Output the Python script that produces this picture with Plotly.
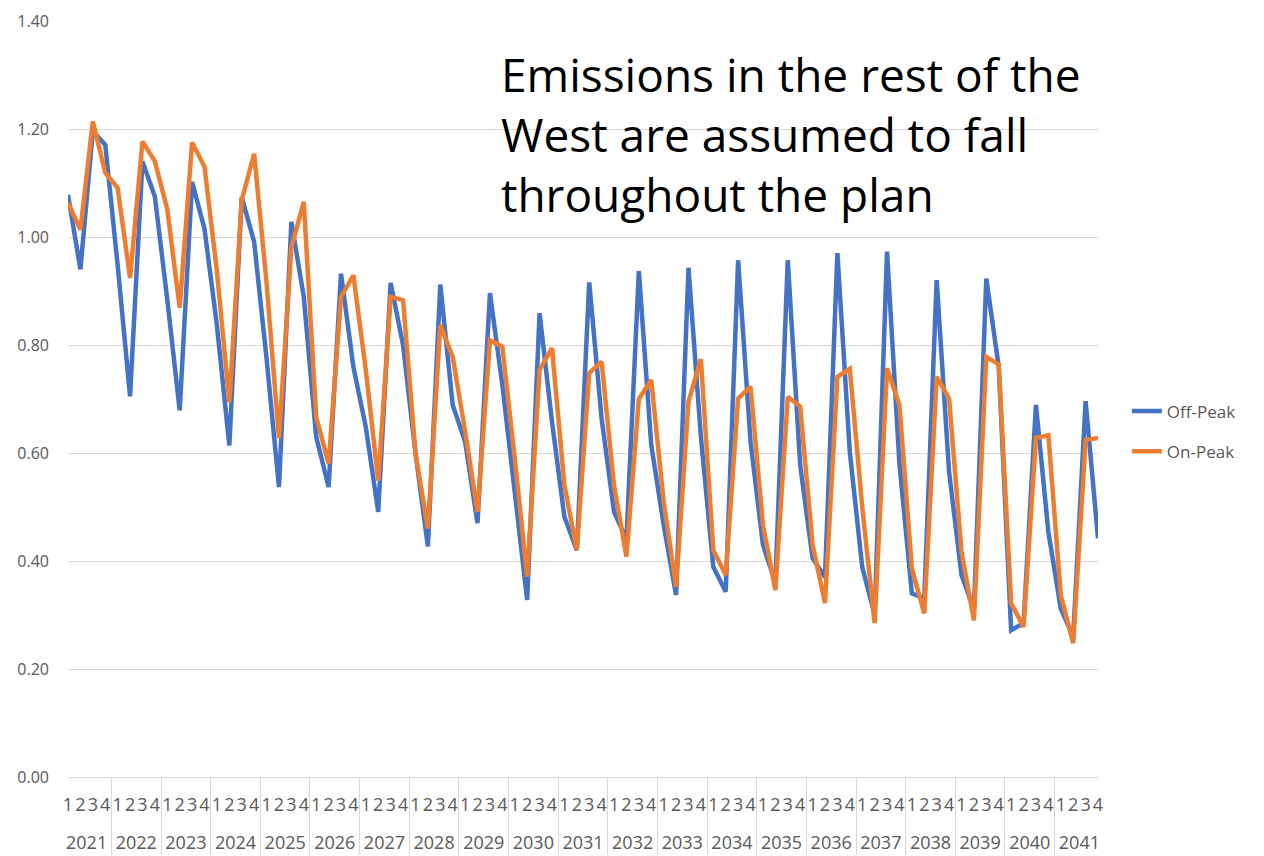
import plotly.graph_objects as go

# Quarterly categories: outer level = year, inner level = quarter
years = [str(y) for y in range(2021, 2042)]
quarters = ["1", "2", "3", "4"]

# Emissions rate by quarter, 2021 Q1 .. 2041 Q4
off_peak = [
    1.078, 0.940, 1.196, 1.171,   # 2021
    0.948, 0.705, 1.140, 1.075,   # 2022
    0.884, 0.679, 1.102, 1.015,   # 2023
    0.836, 0.614, 1.074, 0.991,   # 2024
    0.775, 0.537, 1.028, 0.889,   # 2025
    0.630, 0.537, 0.932, 0.759,   # 2026
    0.648, 0.491, 0.915, 0.800,   # 2027
    0.600, 0.427, 0.912, 0.689,   # 2028
    0.621, 0.470, 0.896, 0.726,   # 2029
    0.528, 0.328, 0.859, 0.658,   # 2030
    0.482, 0.420, 0.916, 0.664,   # 2031
    0.491, 0.440, 0.937, 0.615,   # 2032
    0.467, 0.337, 0.943, 0.630,   # 2033
    0.389, 0.343, 0.957, 0.621,   # 2034
    0.430, 0.360, 0.957, 0.578,   # 2035
    0.405, 0.370, 0.970, 0.602,   # 2036
    0.389, 0.300, 0.973, 0.580,   # 2037
    0.340, 0.331, 0.920, 0.565,   # 2038
    0.374, 0.310, 0.923, 0.760,   # 2039
    0.272, 0.285, 0.689, 0.454,   # 2040
    0.312, 0.260, 0.696, 0.442,   # 2041
]

on_peak = [
    1.063, 1.014, 1.214, 1.119,   # 2021
    1.091, 0.924, 1.177, 1.140,   # 2022
    1.051, 0.869, 1.175, 1.130,   # 2023
    0.936, 0.694, 1.068, 1.154,   # 2024
    0.915, 0.627, 0.981, 1.065,   # 2025
    0.667, 0.580, 0.889, 0.929,   # 2026
    0.753, 0.549, 0.889, 0.883,   # 2027
    0.600, 0.460, 0.837, 0.778,   # 2028
    0.640, 0.491, 0.809, 0.797,   # 2029
    0.590, 0.371, 0.754, 0.794,   # 2030
    0.541, 0.420, 0.748, 0.769,   # 2031
    0.540, 0.408, 0.700, 0.735,   # 2032
    0.510, 0.352, 0.695, 0.774,   # 2033
    0.420, 0.374, 0.701, 0.723,   # 2034
    0.467, 0.346, 0.704, 0.686,   # 2035
    0.430, 0.322, 0.741, 0.756,   # 2036
    0.500, 0.285, 0.757, 0.689,   # 2037
    0.386, 0.303, 0.741, 0.701,   # 2038
    0.417, 0.290, 0.778, 0.764,   # 2039
    0.322, 0.278, 0.628, 0.633,   # 2040
    0.337, 0.248, 0.624, 0.628,   # 2041
]

# Year labels sit one line lower than the quarter digits
year_level = ["<br>" + y for y in years for _ in quarters]
quarter_level = [q for _ in years for q in quarters]
x_cats = [year_level, quarter_level]

TEXT = "#595959"
GRID = "#D9D9D9"
FONT = "Open Sans"

fig = go.Figure()
fig.add_trace(go.Scatter(
    x=x_cats, y=off_peak, name="Off-Peak", mode="lines",
    line=dict(color="#4472C4", width=4.5), legendgroup="a",
))
fig.add_trace(go.Scatter(
    x=x_cats, y=on_peak, name="On-Peak", mode="lines",
    line=dict(color="#ED7D31", width=4.5), legendgroup="b",
))

fig.update_layout(
    width=1264, height=856,
    margin=dict(l=68, r=166, t=21, b=79, autoexpand=False),
    paper_bgcolor="white", plot_bgcolor="white",
    font=dict(family=FONT, color=TEXT),
    showlegend=True,
    legend=dict(
        x=1.028, xanchor="left", y=0.457, yanchor="middle",
        font=dict(size=17, color=TEXT, family=FONT),
        tracegroupgap=15, bgcolor="rgba(0,0,0,0)",
    ),
    annotations=[dict(
        xref="paper", yref="paper", x=0.4184, y=0.851,
        xanchor="left", yanchor="middle", align="left",
        text="Emissions in the rest of the<br>West are assumed to fall<br>throughout the plan",
        showarrow=False,
        font=dict(family=FONT, size=46, color="#000000"),
    )],
)

fig.update_xaxes(
    type="multicategory",
    tickmode="linear", dtick=1, tick0=0, tickangle=0,
    showgrid=False, showline=True, linecolor=GRID, linewidth=1,
    showdividers=True, dividercolor=GRID, dividerwidth=1,
    ticks="", ticklabelstandoff=11,
    tickfont=dict(size=18, color=TEXT, family=FONT),
)
fig.update_yaxes(
    range=[0, 1.4], dtick=0.2, tick0=0, tickformat=".2f",
    showgrid=True, gridcolor=GRID, gridwidth=1,
    zeroline=False, showline=False, ticks="",
    ticklabelstandoff=18,
    tickfont=dict(size=16, color=TEXT, family=FONT),
)

fig.write_html("out.html")
